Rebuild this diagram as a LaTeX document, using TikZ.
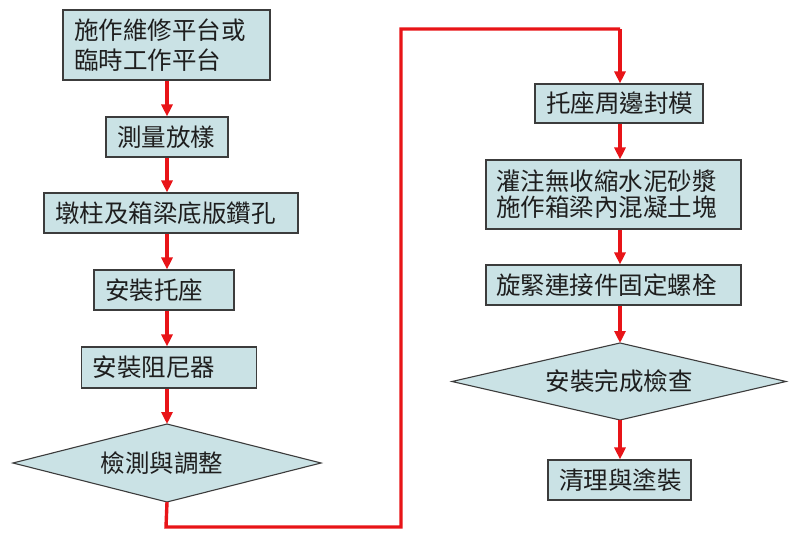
\documentclass[tikz,border=0pt]{standalone}
\usepackage{fontspec}
\setmainfont{Noto Sans CJK TC}
\usetikzlibrary{arrows.meta}
\definecolor{boxfill}{RGB}{202,226,229}
\definecolor{boxline}{RGB}{60,60,60}
\definecolor{flowred}{RGB}{232,20,24}
\definecolor{inktext}{RGB}{30,30,30}
\begin{document}
\begin{tikzpicture}[x=1pt,y=-1pt,
  stepbox/.style={draw=boxline,line width=1.1pt,fill=boxfill,rectangle,inner xsep=11pt,inner ysep=0pt,align=left,text=inktext,font=\fontsize{24.5}{31}\selectfont},
  decide/.style={draw=boxline,line width=1.1pt,fill=boxfill},
  dtext/.style={inner sep=0pt,text=inktext,font=\fontsize{24.5}{31}\selectfont},
  flow/.style={draw=flowred,line width=3.4pt,-{Triangle[length=12pt,width=11pt]}},
  plain/.style={draw=flowred,line width=3.4pt}]
\useasboundingbox (0,0) rectangle (800,540);
\fill[white] (0,0) rectangle (800,540);
% left column
\node[stepbox,minimum width=207,minimum height=70,text width=185] (b1) at (166.5,45) {施作維修平台或\\[-1pt]臨時工作平台};
\node[stepbox,minimum width=122,minimum height=40,text width=100] (b2) at (167,137) {測量放樣};
\node[stepbox,minimum width=254,minimum height=40,text width=232] (b3) at (171,213) {墩柱及箱梁底版鑽孔};
\node[stepbox,minimum width=140,minimum height=40,text width=118] (b4) at (164,290) {安裝托座};
\node[stepbox,minimum width=175,minimum height=41,text width=153] (b5) at (169,367.5) {安裝阻尼器};
% decision 1
\coordinate (d1n) at (167,424);
\coordinate (d1e) at (321,463);
\coordinate (d1s) at (167,502);
\coordinate (d1w) at (13,463);
\draw[decide] (d1n) -- (d1e) -- (d1s) -- (d1w) -- cycle;
\node[dtext] (d1) at (162,463) {檢測與調整};
% right column
\node[stepbox,minimum width=168,minimum height=39,text width=146] (b6) at (619,103.5) {托座周邊封模};
\node[stepbox,minimum width=255,minimum height=69,text width=235,inner xsep=10pt] (b7) at (613.5,194.5) {灌注無收縮水泥砂漿\\[-5pt]施作箱梁內混凝土塊};
\node[stepbox,minimum width=255,minimum height=40,text width=235,inner xsep=10pt] (b8) at (613.5,285) {旋緊連接件固定螺栓};
% decision 2
\coordinate (d2n) at (620,343);
\coordinate (d2e) at (786,381.5);
\coordinate (d2s) at (620,420);
\coordinate (d2w) at (452,381.5);
\draw[decide] (d2n) -- (d2e) -- (d2s) -- (d2w) -- cycle;
\node[dtext] (d2) at (619,381.5) {安裝完成檢查};
\node[stepbox,minimum width=143,minimum height=40,text width=121] (b9) at (619.5,480) {清理與塗裝};
% guide coordinates
\coordinate (xl) at (167,0);
\coordinate (xr) at (620,0);
\coordinate (c1) at (166,527);
\coordinate (c2) at (401,527);
\coordinate (c3) at (401,29);
\coordinate (c4) at (620,29);
% connectors
\draw[flow] (xl|-b1.south) -- (xl|-b2.north);
\draw[flow] (xl|-b2.south) -- (xl|-b3.north);
\draw[flow] (xl|-b3.south) -- (xl|-b4.north);
\draw[flow] (xl|-b4.south) -- (xl|-b5.north);
\draw[flow] (xl|-b5.south) -- (d1n);
\draw[plain,line join=miter] (d1s) -- (c1) -- (c2) -- (c3) -- (c4);
\draw[flow] (c4) -- (xr|-b6.north);
\draw[flow] (xr|-b6.south) -- (xr|-b7.north);
\draw[flow] (xr|-b7.south) -- (xr|-b8.north);
\draw[flow] (xr|-b8.south) -- (d2n);
\draw[flow] (d2s) -- (xr|-b9.north);
\end{tikzpicture}
\end{document}
